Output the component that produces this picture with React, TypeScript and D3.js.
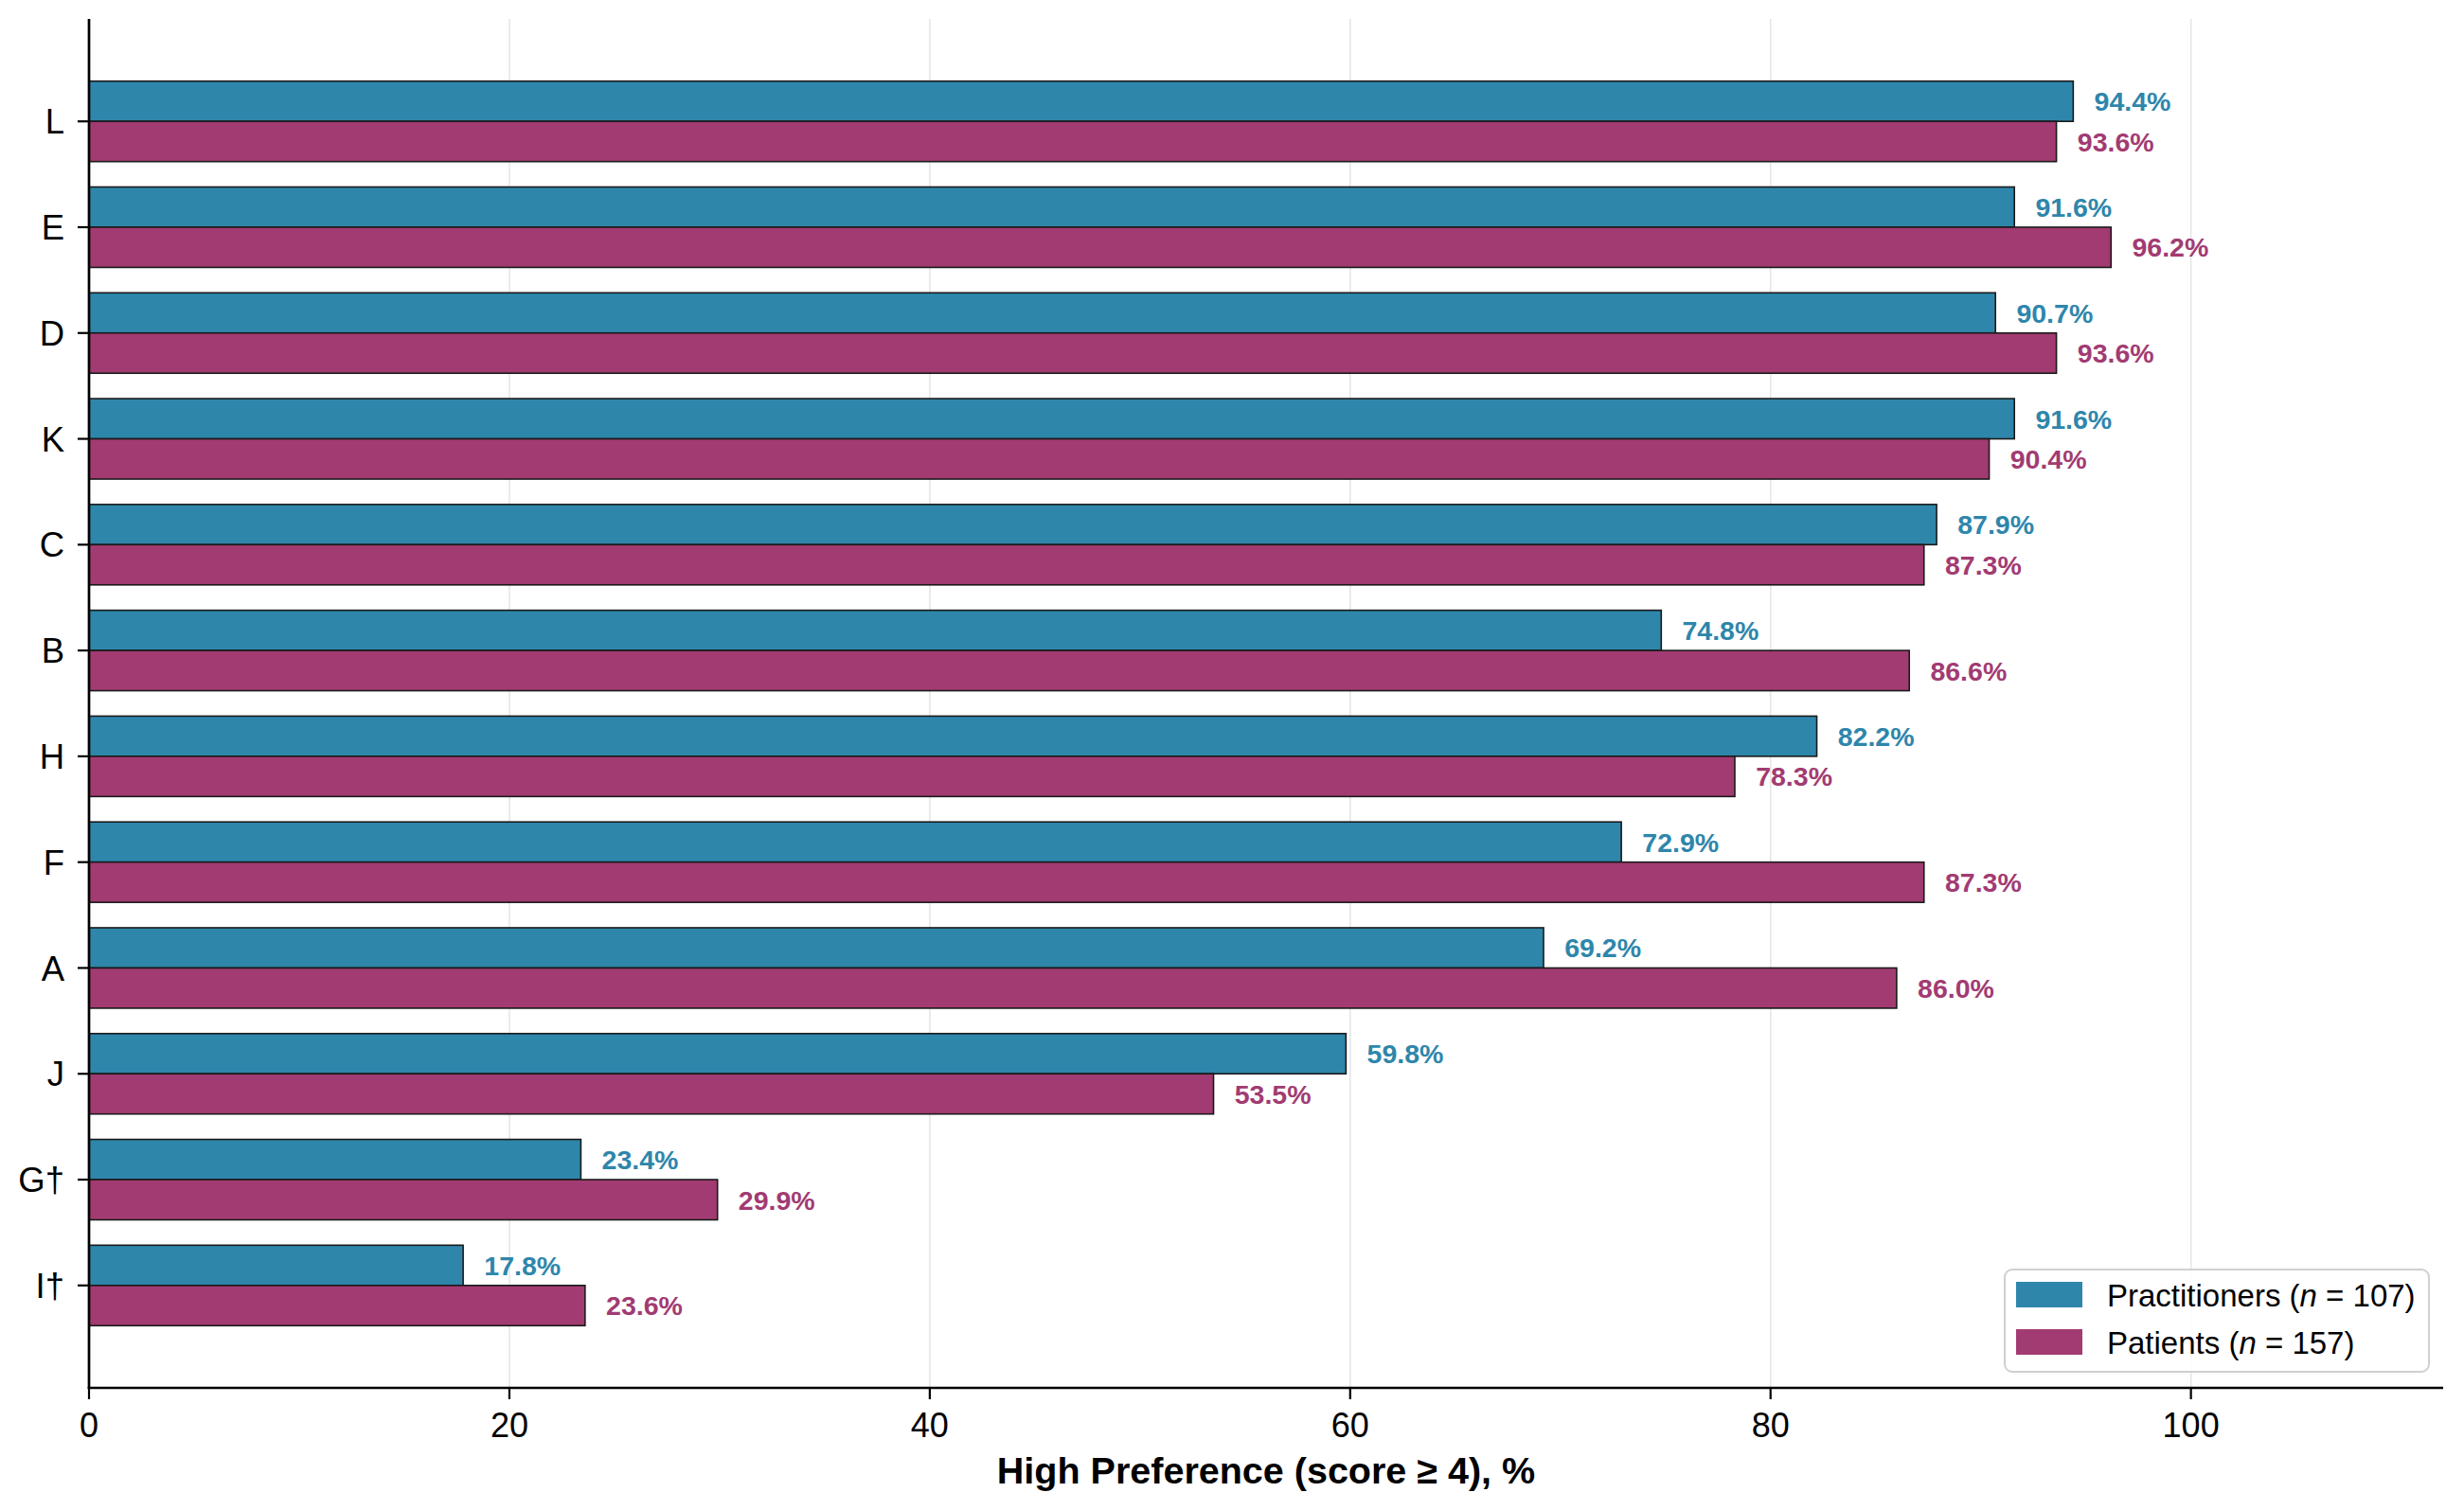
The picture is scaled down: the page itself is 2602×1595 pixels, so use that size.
import React from "react";
import * as d3 from "d3";

const categories = ["L", "E", "D", "K", "C", "B", "H", "F", "A", "J", "G†", "I†"];
const practitioners = [94.4, 91.6, 90.7, 91.6, 87.9, 74.8, 82.2, 72.9, 69.2, 59.8, 23.4, 17.8];
const patients = [93.6, 96.2, 93.6, 90.4, 87.3, 86.6, 78.3, 87.3, 86.0, 53.5, 29.9, 23.6];
const xTicks = [0, 20, 40, 60, 80, 100];
const seriesNames = ["Practitioners", "Patients"];
const seriesN = [107, 157];

const W = 2602;
const H = 1595;
const BLUE = "#2E86AB";
const PINK = "#A23B72";
const FONT = "'Liberation Sans', Arial, Helvetica, sans-serif";

export default function App() {
  const x = d3.scaleLinear().domain([0, 112]).range([94, 2580]);
  const y = d3.scaleLinear().domain([-0.968, 11.968]).range([20, 1466]);
  const barH = 0.38;
  const series = [
    { name: seriesNames[0], n: seriesN[0], values: practitioners, color: BLUE, off: -barH },
    { name: seriesNames[1], n: seriesN[1], values: patients, color: PINK, off: 0 },
  ];
  const bandPx = y(barH) - y(0);

  return (
    <svg
      width={W}
      height={H}
      style={{ position: "absolute", left: 0, top: 0, background: "#fff" }}
      fontFamily={FONT}
    >
      <rect x={0} y={0} width={W} height={H} fill="#fff" />
      {/* grid */}
      {xTicks.map((t) => (
        <line key={"g" + t} x1={x(t)} x2={x(t)} y1={y(-0.968)} y2={y(11.968)} stroke="#e6e6e6" strokeWidth={1.6} />
      ))}
      {/* bars */}
      {series.map((s) =>
        s.values.map((v, i) => (
          <rect
            key={s.name + i}
            x={x(0)}
            y={y(i + s.off)}
            width={x(v) - x(0)}
            height={bandPx}
            fill={s.color}
            stroke="#1a1a1a"
            strokeWidth={1.6}
          />
        ))
      )}
      {/* value labels */}
      {series.map((s) =>
        s.values.map((v, i) => (
          <text
            key={"l" + s.name + i}
            x={x(v + 1)}
            y={y(i + s.off + barH / 2)}
            dy="0.36em"
            fontSize={28.5}
            fontWeight="bold"
            fill={s.color}
          >
            {v.toFixed(1)}%
          </text>
        ))
      )}
      {/* spines */}
      <line x1={x(0)} x2={x(0)} y1={20} y2={1467} stroke="#000" strokeWidth={2.7} />
      <line x1={x(0) - 1.3} x2={2580} y1={1466} y2={1466} stroke="#000" strokeWidth={2.7} />
      {/* y ticks */}
      {categories.map((c, i) => (
        <g key={"yt" + c}>
          <line x1={x(0) - 12} x2={x(0)} y1={y(i)} y2={y(i)} stroke="#000" strokeWidth={2.2} />
          <text x={68} y={y(i)} dy="0.36em" textAnchor="end" fontSize={36.5} fill="#000">
            {c}
          </text>
        </g>
      ))}
      {/* x ticks */}
      {xTicks.map((t) => (
        <g key={"xt" + t}>
          <line x1={x(t)} x2={x(t)} y1={1466} y2={1478} stroke="#000" strokeWidth={2.2} />
          <text x={x(t)} y={1518} textAnchor="middle" fontSize={36} fill="#000">
            {t}
          </text>
        </g>
      ))}
      {/* x label */}
      <text x={(x(0) + 2580) / 2} y={1567} textAnchor="middle" fontSize={39.5} fontWeight="bold" fill="#000">
        High Preference (score ≥ 4), %
      </text>
      {/* legend */}
      <g>
        <rect x={2117} y={1341} width={448} height={108} rx={8} ry={8} fill="#fff" fillOpacity={0.85} stroke="#d0d0d0" strokeWidth={2} />
        {series.map((s, k) => (
          <g key={"lg" + k}>
            <rect x={2129} y={1354 + k * 50} width={70} height={27} fill={s.color} />
            <text x={2225} y={1368 + k * 50} dy="0.36em" fontSize={33} fill="#000">
              {s.name} (<tspan fontStyle="italic">n</tspan> = {s.n})
            </text>
          </g>
        ))}
      </g>
    </svg>
  );
}
